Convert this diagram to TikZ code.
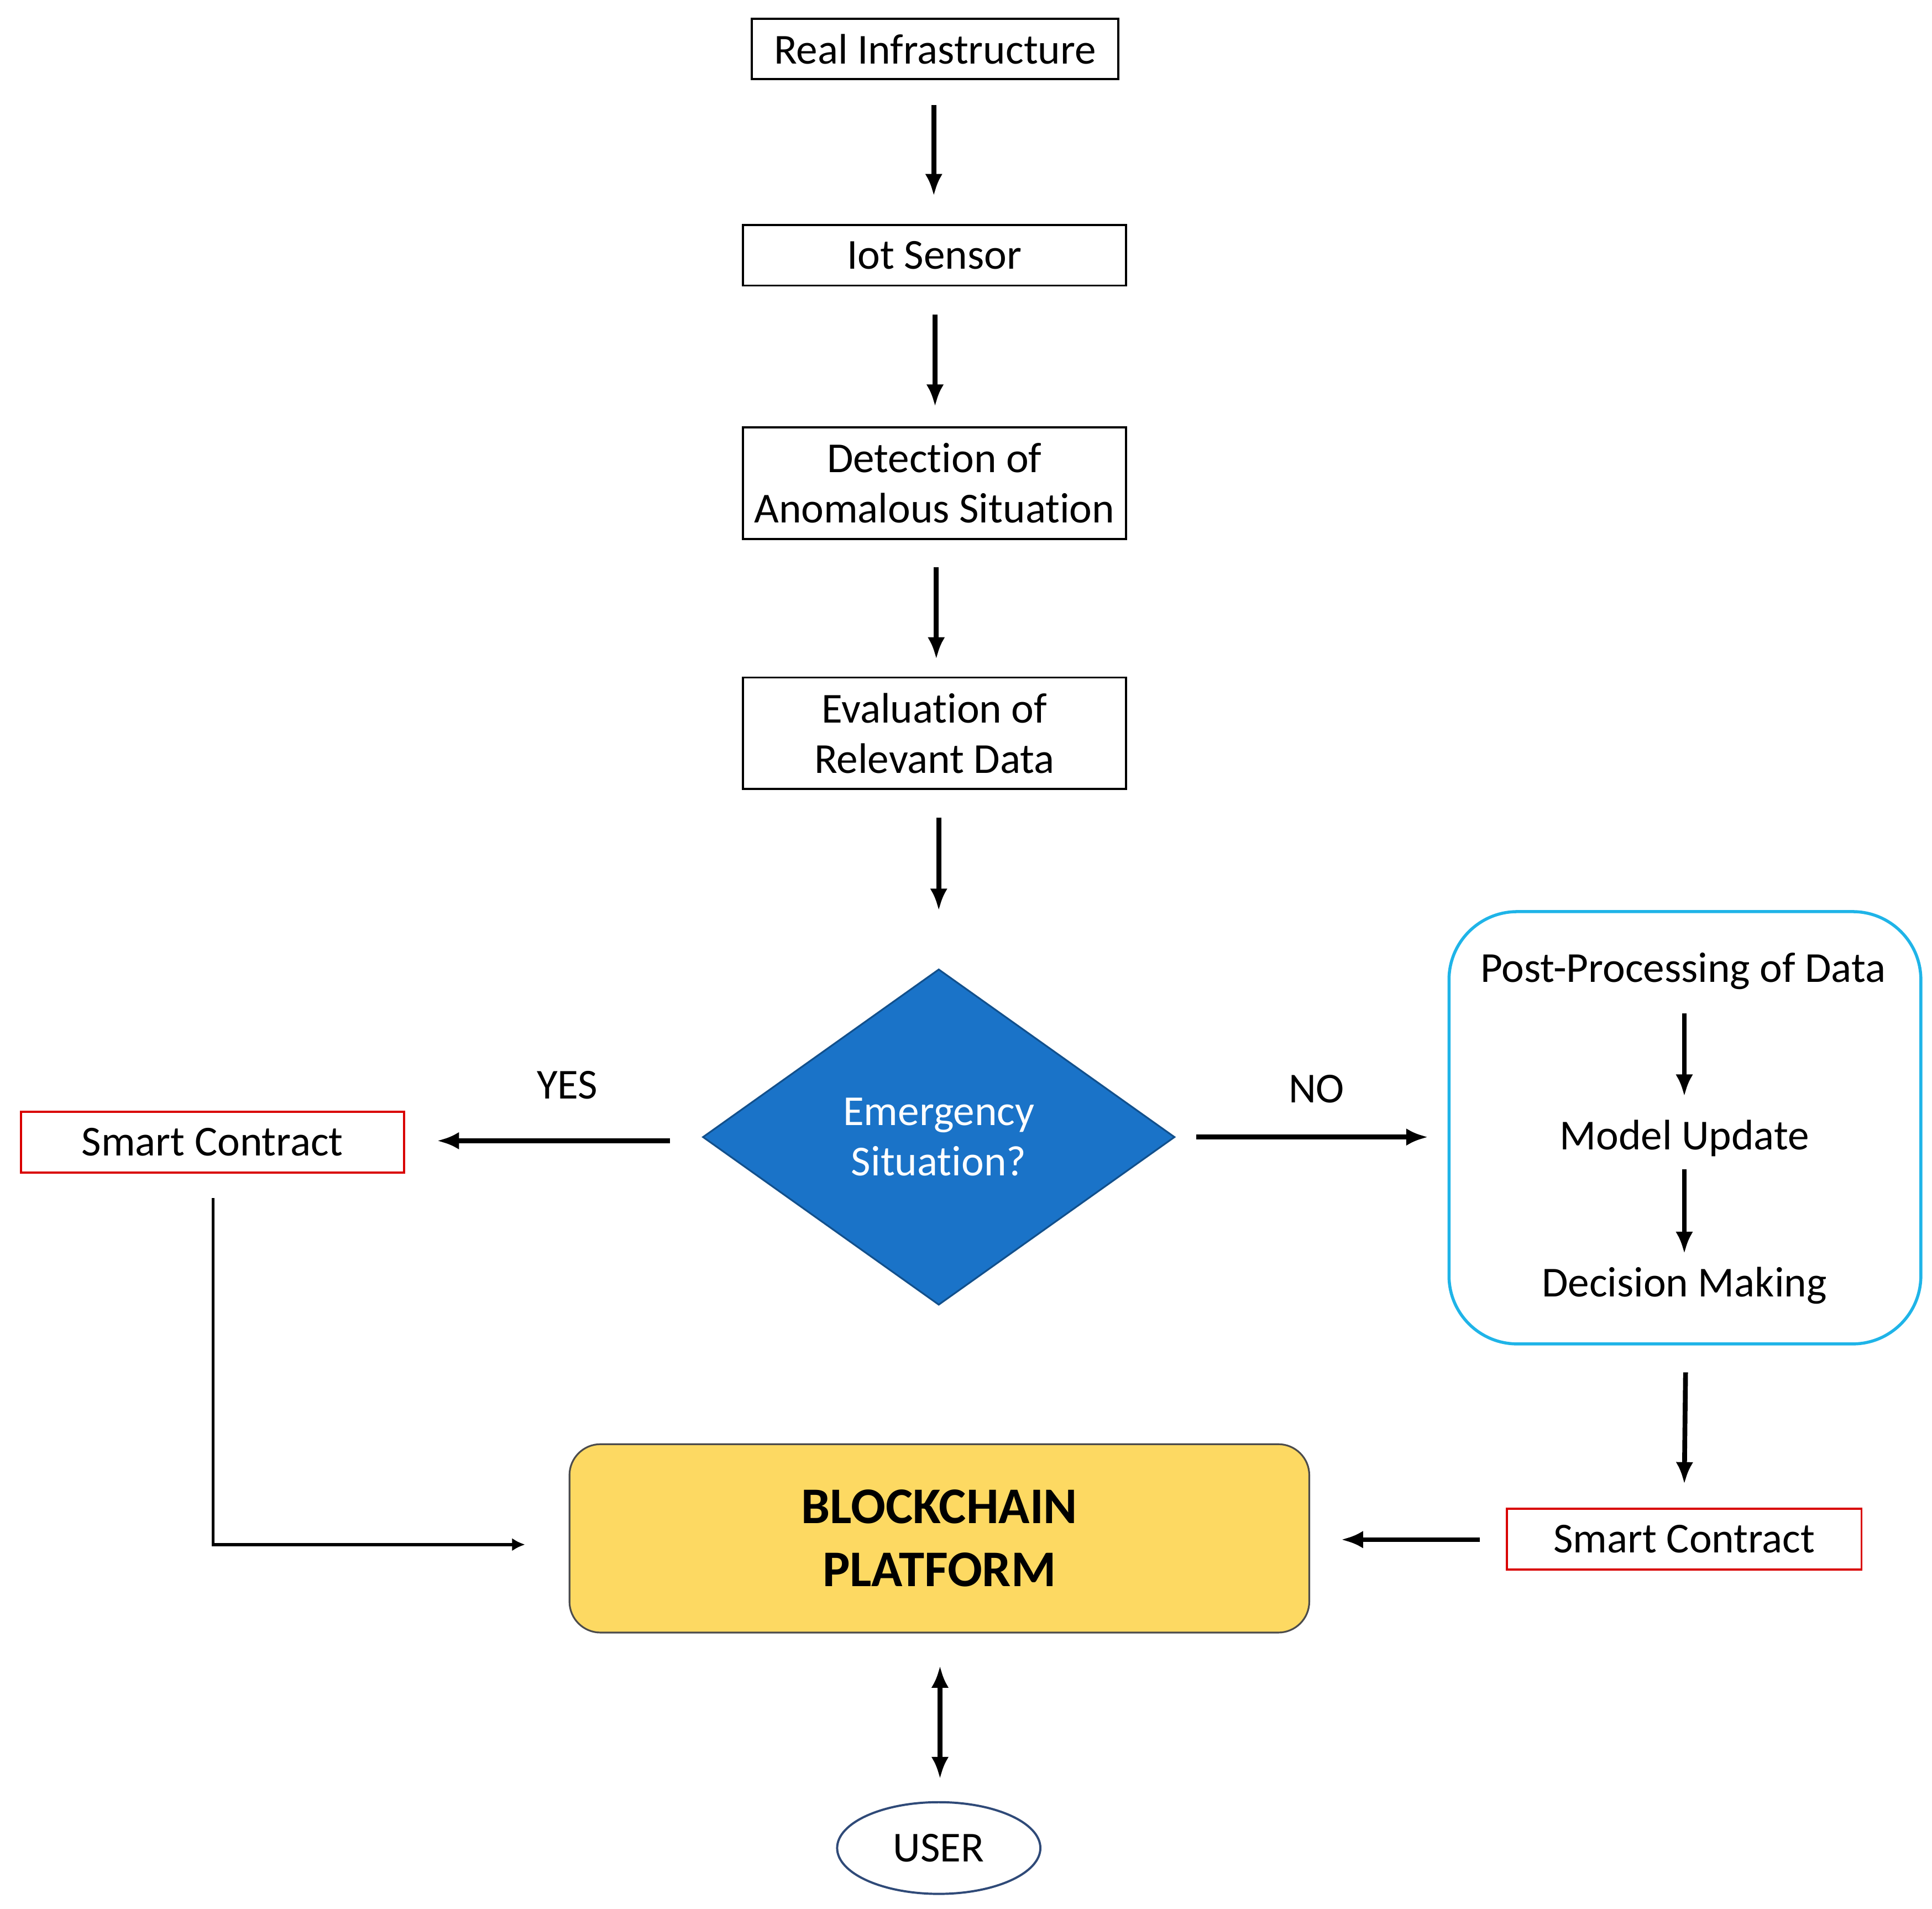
\documentclass[tikz,border=0pt]{standalone}
\usepackage{fontspec}
\setmainfont{Carlito}[RawFeature=-liga]
\usetikzlibrary{shapes.geometric,arrows.meta}
\definecolor{dblue}{HTML}{1A73C8}
\definecolor{bcy}{HTML}{FDD962}
\definecolor{cyanb}{HTML}{1FB4E8}
\definecolor{ublue}{HTML}{2F4A78}
\begin{document}
\begin{tikzpicture}[x=0.01cm,y=-0.01cm,
  every node/.style={font=\fontsize{9.8}{11.6}\selectfont},
  box/.style={draw=black,line width=0.5pt,minimum width=3.09cm,minimum height=0.49cm,inner sep=0pt,align=center},
  red/.style={box,draw=red!85!black,line width=0.5pt},
  arr/.style={line width=1.1pt,-{Latex[length=5pt,width=4pt]}},
  lbl/.style={inner sep=0pt}]
\useasboundingbox (0,0) rectangle (1560,1541);
\node[box,minimum width=2.96cm] (ri) at (755,39.5) {Real Infrastructure};
\node[box] (iot) at (754.5,206) {Iot Sensor};
\node[box,minimum height=0.9cm] (det) at (754.5,390) {Detection of\\Anomalous Situation};
\node[box,minimum height=0.9cm] (eval) at (754.5,592) {Evaluation of\\Relevant Data};
\node[diamond,fill=dblue,draw=dblue!70!black,minimum width=3.81cm,minimum height=2.71cm,inner sep=0pt,text=white,align=center,line width=0.4pt] (dia) at (758,918) {Emergency\\Situation?};
\node[red] (scl) at (171.5,922) {Smart Contract};
\node[red,minimum width=2.86cm] (scr) at (1360,1242.5) {Smart Contract};
\draw[cyanb,line width=0.7pt,rounded corners=0.55cm] (1170,736) rectangle (1551,1085);
\node[lbl] (pp) at (1359,784) {Post-Processing of Data};
\node[lbl] (mu) at (1360,919) {Model Update};
\node[lbl] (dm) at (1360,1038) {Decision Making};
\node[draw=black!70,fill=bcy,rounded corners=0.25cm,minimum width=5.97cm,minimum height=1.52cm,align=center,font=\fontsize{11.8}{14.5}\selectfont\bfseries,line width=0.4pt] (bc) at (758.5,1242) {BLOCKCHAIN\\PLATFORM};
\node[ellipse,draw=ublue,minimum width=1.64cm,minimum height=0.74cm,inner sep=0pt,line width=0.5pt] (user) at (758,1492) {USER};
\node[lbl] (yes) at (458,876) {YES};
\node[lbl] (no) at (1063,879) {NO};
\coordinate (a1) at (754,85); \coordinate (b1) at (754,158);
\coordinate (a2) at (755,254); \coordinate (b2) at (755,328);
\coordinate (a3) at (756,458); \coordinate (b3) at (756,532);
\coordinate (a4) at (758,660); \coordinate (b4) at (758,735);
\draw[arr] (a1) -- (b1); \draw[arr] (a2) -- (b2); \draw[arr] (a3) -- (b3); \draw[arr] (a4) -- (b4);
\coordinate (ya) at (541,921); \coordinate (yb) at (353,921);
\draw[arr] (ya) -- (yb);
\coordinate (na) at (966,918); \coordinate (nb) at (1153,918);
\draw[arr] (na) -- (nb);
\coordinate (p1) at (1360,818); \coordinate (p2) at (1360,885);
\coordinate (p3) at (1360,944); \coordinate (p4) at (1360,1012);
\draw[arr] (p1) -- (p2); \draw[arr] (p3) -- (p4);
\coordinate (d1) at (1361,1108); \coordinate (d2) at (1360,1198);
\draw[arr] (d1) -- (d2);
\coordinate (s1) at (1195,1243); \coordinate (s2) at (1083,1243);
\draw[arr] (s1) -- (s2);
\coordinate (l1) at (172,967); \coordinate (l2) at (172,1247); \coordinate (l3) at (424,1247);
\draw[line width=0.7pt,-{Latex[length=3pt,width=3pt]}] (l1) -- (l2) -- (l3);
\coordinate (u1) at (759,1345); \coordinate (u2) at (759,1436);
\draw[line width=1.1pt,{Latex[length=5pt,width=4pt]}-{Latex[length=5pt,width=4pt]}] (u1) -- (u2);
\end{tikzpicture}
\end{document}
